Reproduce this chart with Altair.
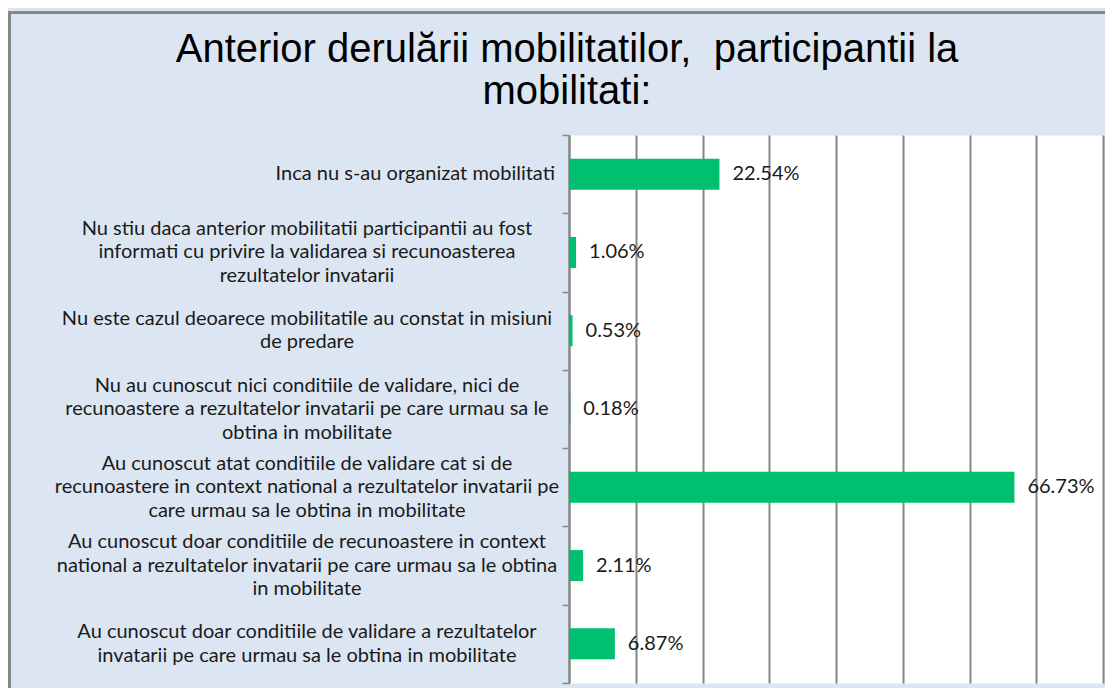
import altair as alt
import pandas as pd

categories = [
    "Inca nu s-au organizat mobilitati",
    "Nu stiu daca anterior mobilitatii participantii au fost\ninformati cu privire la validarea si recunoasterea\nrezultatelor invatarii",
    "Nu este cazul deoarece mobilitatile au constat in misiuni\nde predare",
    "Nu au cunoscut nici conditiile de validare, nici de\nrecunoastere a rezultatelor invatarii pe care urmau sa le\nobtina in mobilitate",
    "Au cunoscut atat conditiile de validare cat si de\nrecunoastere in context national a rezultatelor invatarii pe\ncare urmau sa le obtina in mobilitate",
    "Au cunoscut doar conditiile de recunoastere in context\nnational a rezultatelor invatarii pe care urmau sa le obtina\nin mobilitate",
    "Au cunoscut doar conditiile de validare a rezultatelor\ninvatarii pe care urmau sa le obtina in mobilitate",
]
values = [22.54, 1.06, 0.53, 0.18, 66.73, 2.11, 6.87]
x_ticks = [0, 10, 20, 30, 40, 50, 60, 70, 80]
title_lines = ["Anterior derulării mobilitatilor,\u00a0 participantii la", "mobilitati:"]

df = pd.DataFrame({"cat": categories, "pct": values})

GRID = "#868686"
LABEL_FONT = "Lato"
LABEL_SIZE = 20
LINE_H = 23.5
TEXT_COLOR = "#1a1a1a"

y_enc = alt.Y(
    "cat:N",
    sort=categories,
    scale=alt.Scale(paddingInner=0, paddingOuter=0),
    axis=alt.Axis(
        labels=False, title=None, tickBand="extent", tickColor=GRID,
        tickSize=7, tickWidth=1.5, domainColor=GRID, domainWidth=2, grid=False,
    ),
)
x_enc = alt.X(
    "pct:Q",
    scale=alt.Scale(domain=[0, 80], nice=False),
    axis=alt.Axis(
        values=x_ticks, labels=False, ticks=False, domain=False, title=None,
        grid=True, gridColor=GRID, gridWidth=2, gridOpacity=1,
    ),
)
y_txt = alt.Y("cat:N", sort=categories)

base = alt.Chart(df)

frame = alt.Chart(pd.DataFrame({"k": [0]})).mark_rect(
    fill="transparent", stroke="#878787", strokeWidth=3
).encode(
    x=alt.value(-559.5), x2=alt.value(700), y=alt.value(-122.5), y2=alt.value(700)
)

bars = base.mark_bar(color="#00BF6F", height=alt.RelativeBandSize(0.396)).encode(
    x=x_enc, y=y_enc
)

pct_text = base.transform_calculate(
    lbl="format(datum.pct, '.2f') + '%'"
).mark_text(
    align="left", baseline="middle", dx=13, font=LABEL_FONT, fontSize=LABEL_SIZE,
    color=TEXT_COLOR,
).encode(x="pct:Q", y=y_txt, text="lbl:N")

lines_base = base.transform_calculate(nl="length(split(datum.cat, '\\n'))")

single_lbl = lines_base.transform_filter("datum.nl == 1").mark_text(
    align="right", baseline="middle",
    font=LABEL_FONT, fontSize=LABEL_SIZE, color=TEXT_COLOR,
).encode(y=y_txt, x=alt.value(-14), text="cat:N")

two_lbl = lines_base.transform_filter("datum.nl == 2").mark_text(
    align="center", baseline="middle", lineBreak="\n", lineHeight=LINE_H,
    dy=-LINE_H / 2, font=LABEL_FONT, fontSize=LABEL_SIZE, color=TEXT_COLOR,
).encode(y=y_txt, x=alt.value(-262), text="cat:N")

three_lbl = lines_base.transform_filter("datum.nl == 3").mark_text(
    align="center", baseline="middle", lineBreak="\n", lineHeight=LINE_H,
    dy=-LINE_H, font=LABEL_FONT, fontSize=LABEL_SIZE, color=TEXT_COLOR,
).encode(y=y_txt, x=alt.value(-262), text="cat:N")

chart = alt.layer(frame, bars, pct_text, single_lbl, two_lbl, three_lbl).properties(
    width=534,
    height=548,
    title=alt.TitleParams(
        text=title_lines, anchor="middle", font="Liberation Sans", fontSize=40,
        fontWeight="normal", color="#000000", lineHeight=42, dx=-269, offset=0, dy=101,
    ),
    autosize=alt.AutoSizeParams(type="none"),
    padding={"left": 561, "top": 127, "right": 2, "bottom": 5},
).configure(background="#dce6f2").configure_view(fill="white", stroke="transparent")

chart.save("out.html", embed_options={"renderer": "svg", "actions": False})
